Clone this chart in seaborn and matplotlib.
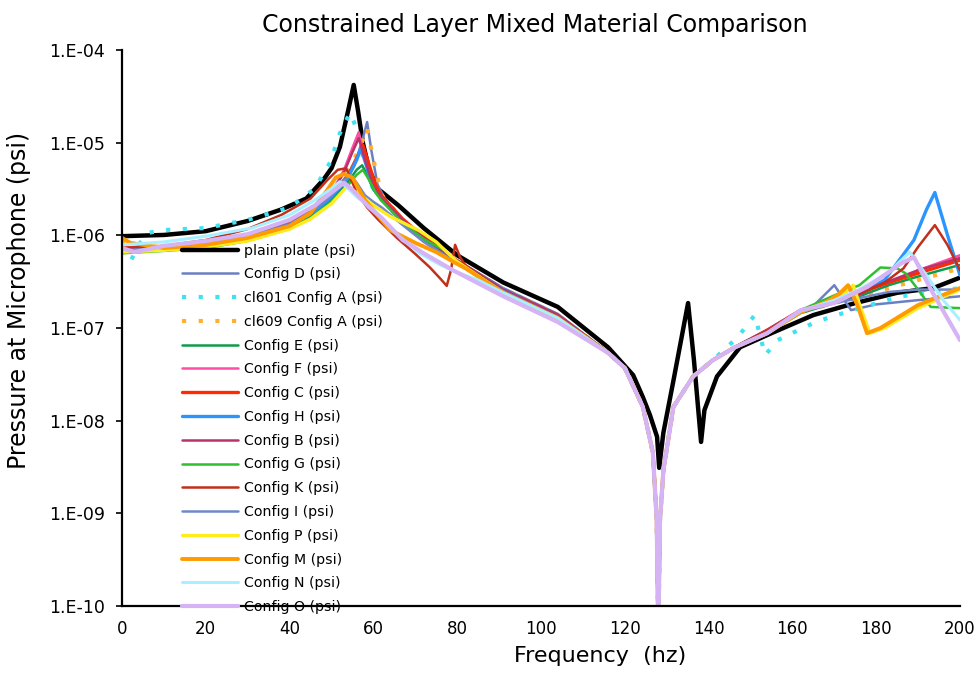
import matplotlib
matplotlib.use("Agg")
import matplotlib.pyplot as plt
from matplotlib.ticker import FuncFormatter, NullLocator
import numpy as np
import seaborn as sns

# ---- frequency (hz) and microphone pressure (psi) for each configuration ----
plain_f = [0, 10, 20, 30, 38, 44, 48, 50, 52, 54, 55.3, 56.3, 57.5, 59, 61, 66, 72, 80, 91, 104,
           116, 122, 124.3, 126, 127.7, 128.2, 129.2, 131.6, 135.1, 136.5, 138.2, 139, 142, 147.5,
           155, 165, 175, 185, 193.6, 200]
plain_p = [9.8e-7, 1.01e-6, 1.11e-6, 1.43e-6, 1.9e-6, 2.5e-6, 3.95e-6, 5.3e-6, 9.0e-6, 2.25e-5,
           4.2e-5, 2.25e-5, 9.9e-6, 5.1e-6, 3.2e-6, 2.1e-6, 1.2e-6, 6.1e-7, 3.1e-7, 1.69e-7,
           6.2e-8, 3.1e-8, 1.8e-8, 1.15e-8, 6.7e-9, 3.1e-9, 7.4e-9, 2.7e-8, 1.86e-7, 4.5e-8,
           5.9e-9, 1.3e-8, 3.0e-8, 6.2e-8, 8.8e-8, 1.38e-7, 1.86e-7, 2.4e-7, 2.7e-7, 3.5e-7]

d_f = [0, 10, 20, 30, 40, 46, 50, 53, 55.5, 57.5, 58.5, 59.5, 61, 64, 70, 79, 91, 104,
       116, 120, 124.3, 126.7, 127.6, 128, 128.4, 129.2, 131.6, 136.3, 141, 146,
       154, 162, 165, 170, 174, 180, 190, 200]
d_p = [6.9e-7, 7.3e-7, 8.1e-7, 9.6e-7, 1.32e-6, 1.9e-6, 2.5e-6, 3.5e-6, 5.7e-6, 1.12e-5, 1.67e-5,
       8.3e-6, 3.5e-6, 1.97e-6, 1.09e-6, 5.7e-7, 2.7e-7, 1.42e-7,
       5.4e-8, 3.7e-8, 1.41e-8, 4.5e-9, 8.5e-10, 5e-11, 8.5e-10, 2.9e-9, 1.41e-8, 3.0e-8, 4.5e-8, 6.1e-8,
       9.1e-8, 1.49e-7, 1.73e-7, 2.9e-7, 1.56e-7, 1.8e-7, 2.0e-7, 2.2e-7]

a601_f = [0, 2, 4, 6, 10, 15, 20, 30, 40, 46, 50, 51.5, 53, 54.5, 56, 58, 60, 62, 67, 72, 79, 91, 104,
          116, 120, 124.3, 126.7, 127.6, 128, 128.4, 129.2, 131.6, 136.3, 141,
          147, 151, 153.5, 156.5, 160.6, 165, 169, 177, 186, 200]
a601_p = [6.9e-7, 5.2e-7, 7.9e-7, 1.06e-6, 1.14e-6, 1.17e-6, 1.2e-6, 1.47e-6, 2.0e-6, 3.2e-6,
          6.5e-6, 1.12e-5, 1.6e-5, 2.1e-5, 1.4e-5, 5.7e-6, 3.1e-6, 2.4e-6, 1.39e-6, 8.9e-7, 5.4e-7,
          2.6e-7, 1.38e-7,
          5.4e-8, 3.7e-8, 1.41e-8, 4.5e-9, 8.5e-10, 5e-11, 8.5e-10, 2.9e-9, 1.41e-8, 3.0e-8, 4.5e-8,
          8.0e-8, 1.38e-7, 5.1e-8, 7.4e-8, 9.1e-8, 1.13e-7, 1.31e-7, 1.69e-7, 2.2e-7, 2.7e-7]

a609_f = [0, 3, 10, 20, 30, 40, 46, 50, 54, 57, 58.5, 60, 62, 67, 72, 79, 91, 104,
          116, 120, 124.3, 126.7, 127.6, 128, 128.4, 129.2, 131.6, 136.3, 141, 146,
          154, 162, 170, 176, 183, 190, 200]
a609_p = [8.9e-7, 7.7e-7, 7.5e-7, 8.3e-7, 9.8e-7, 1.36e-6, 1.9e-6, 2.7e-6, 4.8e-6, 9.4e-6, 1.44e-5,
          6.5e-6, 2.7e-6, 1.47e-6, 8.9e-7, 5.4e-7, 2.6e-7, 1.35e-7,
          5.4e-8, 3.7e-8, 1.41e-8, 4.5e-9, 8.5e-10, 5e-11, 8.5e-10, 2.9e-9, 1.41e-8, 3.0e-8, 4.5e-8, 6.1e-8,
          9.1e-8, 1.49e-7, 1.86e-7, 2.2e-7, 2.7e-7, 3.3e-7, 4.4e-7]

e_f = [0, 10, 20, 30, 40, 45, 50, 54, 56, 57.3, 58.5, 60, 62, 67, 72, 77, 80, 91, 104,
       116, 120, 124.3, 126.7, 127.6, 128, 128.4, 129.2, 131.6, 136.3, 141, 146,
       154, 162, 170, 176, 183, 190, 200]
e_p = [6.6e-7, 6.9e-7, 7.5e-7, 8.9e-7, 1.2e-6, 1.58e-6, 2.4e-6, 3.8e-6, 5.1e-6, 5.7e-6, 4.5e-6,
       3.1e-6, 2.4e-6, 1.39e-6, 9.4e-7, 6.9e-7, 5.2e-7, 2.45e-7, 1.28e-7,
       5.4e-8, 3.7e-8, 1.41e-8, 4.5e-9, 8.5e-10, 5e-11, 8.5e-10, 2.9e-9, 1.41e-8, 3.0e-8, 4.5e-8, 6.1e-8,
       8.8e-8, 1.45e-7, 1.86e-7, 2.2e-7, 2.9e-7, 3.6e-7, 4.8e-7]

f_f = [0, 10, 20, 30, 40, 46, 50, 53, 55, 56.5, 58, 60, 62, 67, 72, 79, 91, 104,
       116, 120, 124.3, 126.7, 127.6, 128, 128.4, 129.2, 131.6, 136.3, 141, 146,
       154, 162, 170, 176, 183, 190, 200]
f_p = [7.1e-7, 7.3e-7, 8.1e-7, 9.6e-7, 1.32e-6, 1.9e-6, 2.9e-6, 5.1e-6, 8.8e-6, 1.30e-5, 6.8e-6,
       3.5e-6, 2.5e-6, 1.47e-6, 9.4e-7, 5.7e-7, 2.6e-7, 1.38e-7,
       5.4e-8, 3.7e-8, 1.41e-8, 4.5e-9, 8.5e-10, 5e-11, 8.5e-10, 2.9e-9, 1.41e-8, 3.0e-8, 4.5e-8, 6.1e-8,
       9.5e-8, 1.56e-7, 2.0e-7, 2.4e-7, 3.1e-7, 4.2e-7, 6.1e-7]

c_f = [0, 10, 20, 30, 40, 46, 50, 54, 56, 57.5, 59, 60.5, 62, 67, 72, 79, 91, 104,
       116, 120, 124.3, 126.7, 127.6, 128, 128.4, 129.2, 131.6, 136.3, 141, 146,
       154, 162, 170, 176, 183, 190, 200]
c_p = [7.3e-7, 7.5e-7, 8.3e-7, 9.8e-7, 1.36e-6, 1.9e-6, 2.7e-6, 4.5e-6, 6.8e-6, 9.4e-6, 5.7e-6,
       3.5e-6, 2.65e-6, 1.5e-6, 9.6e-7, 5.7e-7, 2.6e-7, 1.38e-7,
       5.4e-8, 3.7e-8, 1.41e-8, 4.5e-9, 8.5e-10, 5e-11, 8.5e-10, 2.9e-9, 1.41e-8, 3.0e-8, 4.5e-8, 6.1e-8,
       9.5e-8, 1.56e-7, 2.0e-7, 2.4e-7, 3.1e-7, 3.9e-7, 5.4e-7]

h_f = [0, 10, 20, 30, 40, 46, 50, 54, 56, 57, 58.5, 60, 62, 67, 72, 79, 91, 104,
       116, 120, 124.3, 126.7, 127.6, 128, 128.4, 129.2, 131.6, 136.3, 141, 146,
       154, 162, 170, 176, 182, 186, 189, 192, 194, 197, 200]
h_p = [6.9e-7, 7.3e-7, 8.1e-7, 9.6e-7, 1.32e-6, 1.83e-6, 2.6e-6, 4.3e-6, 6.5e-6, 8.8e-6, 5.3e-6,
       3.2e-6, 2.5e-6, 1.43e-6, 9.1e-7, 5.6e-7, 2.6e-7, 1.35e-7,
       5.4e-8, 3.7e-8, 1.41e-8, 4.5e-9, 8.5e-10, 5e-11, 8.5e-10, 2.9e-9, 1.41e-8, 3.0e-8, 4.5e-8, 6.1e-8,
       9.3e-8, 1.53e-7, 1.95e-7, 2.3e-7, 3.3e-7, 5.8e-7, 8.9e-7, 1.9e-6, 2.9e-6, 1.01e-6, 3.7e-7]

b_f = [0, 10, 20, 30, 40, 46, 50, 53, 55, 56.5, 58, 60, 62, 67, 72, 79, 91, 104,
       116, 120, 124.3, 126.7, 127.6, 128, 128.4, 129.2, 131.6, 136.3, 141, 146,
       154, 162, 170, 176, 183, 190, 200]
b_p = [7.1e-7, 7.3e-7, 8.1e-7, 9.6e-7, 1.32e-6, 1.9e-6, 2.8e-6, 4.8e-6, 7.9e-6, 1.12e-5, 6.5e-6,
       3.4e-6, 2.5e-6, 1.47e-6, 9.4e-7, 5.7e-7, 2.6e-7, 1.38e-7,
       5.4e-8, 3.7e-8, 1.41e-8, 4.5e-9, 8.5e-10, 5e-11, 8.5e-10, 2.9e-9, 1.41e-8, 3.0e-8, 4.5e-8, 6.1e-8,
       9.5e-8, 1.56e-7, 2.0e-7, 2.45e-7, 3.2e-7, 4.2e-7, 5.7e-7]

g_f = [0, 10, 20, 30, 40, 45, 50, 54, 56, 57.5, 59, 60.5, 62, 67, 72, 77, 80, 91, 104,
       116, 120, 124.3, 126.7, 127.6, 128, 128.4, 129.2, 131.6, 136.3, 141, 146,
       154, 162, 170, 176, 181, 185, 187, 190, 193, 200]
g_p = [6.4e-7, 6.8e-7, 7.3e-7, 8.7e-7, 1.17e-6, 1.54e-6, 2.3e-6, 3.5e-6, 4.5e-6, 5.1e-6, 3.95e-6,
       2.9e-6, 2.35e-6, 1.36e-6, 9.1e-7, 6.9e-7, 5.0e-7, 2.4e-7, 1.28e-7,
       5.4e-8, 3.7e-8, 1.41e-8, 4.5e-9, 8.5e-10, 5e-11, 8.5e-10, 2.9e-9, 1.41e-8, 3.0e-8, 4.5e-8, 6.1e-8,
       8.8e-8, 1.56e-7, 2.25e-7, 2.9e-7, 4.5e-7, 4.4e-7, 3.9e-7, 2.6e-7, 1.69e-7, 1.64e-7]

k_f = [0, 10, 20, 30, 38, 45, 49, 51.5, 53.5, 56, 58.5, 61, 65.6, 70, 73.5, 76, 77.5, 78.5, 79.5,
       80.7, 82, 91, 104,
       116, 120, 124.3, 126.7, 127.6, 128, 128.4, 129.2, 131.6, 136.3, 141, 146,
       154, 162, 170, 176, 182, 186.5, 190, 194, 197, 200]
k_p = [7.3e-7, 7.7e-7, 8.9e-7, 1.17e-6, 1.66e-6, 2.5e-6, 3.95e-6, 5.1e-6, 5.3e-6, 2.9e-6, 2.0e-6,
       1.5e-6, 9.4e-7, 6.3e-7, 4.5e-7, 3.4e-7, 2.85e-7, 4.2e-7, 7.9e-7,
       5.8e-7, 4.7e-7, 2.45e-7, 1.28e-7,
       5.4e-8, 3.7e-8, 1.41e-8, 4.5e-9, 8.5e-10, 5e-11, 8.5e-10, 2.9e-9, 1.41e-8, 3.0e-8, 4.5e-8, 6.1e-8,
       9.3e-8, 1.53e-7, 1.95e-7, 2.3e-7, 3.1e-7, 4.4e-7, 7.5e-7, 1.29e-6, 7.9e-7, 4.2e-7]

i_f = [0, 10, 20, 30, 40, 46, 50, 53, 54.5, 56, 58, 60, 62, 67, 72, 79, 91, 104,
       116, 120, 124.3, 126.7, 127.6, 128, 128.4, 129.2, 131.6, 136.3, 141, 146,
       154, 162, 170, 176, 183, 190, 200]
i_p = [6.9e-7, 7.3e-7, 8.1e-7, 9.6e-7, 1.32e-6, 1.9e-6, 2.7e-6, 3.95e-6, 4.5e-6, 3.7e-6, 2.7e-6,
       2.3e-6, 2.0e-6, 1.29e-6, 8.5e-7, 5.3e-7, 2.5e-7, 1.31e-7,
       5.4e-8, 3.7e-8, 1.41e-8, 4.5e-9, 8.5e-10, 5e-11, 8.5e-10, 2.9e-9, 1.41e-8, 3.0e-8, 4.5e-8, 6.1e-8,
       8.8e-8, 1.49e-7, 1.86e-7, 2.1e-7, 2.45e-7, 2.6e-7, 2.6e-7]

p_f = [0, 10, 20, 30, 40, 45, 50, 53.5, 56, 58, 60, 64, 71, 75, 77.5, 80, 91, 104,
       116, 120, 124.3, 126.7, 127.6, 128, 128.4, 129.2, 131.6, 136.3, 141, 146,
       154, 162, 168, 172, 174.5, 176.5, 178.5, 182, 190, 200]
p_p = [6.6e-7, 6.9e-7, 7.5e-7, 8.7e-7, 1.17e-6, 1.5e-6, 2.2e-6, 3.3e-6, 2.9e-6, 2.5e-6, 2.1e-6,
       1.6e-6, 1.12e-6, 8.5e-7, 6.6e-7, 5.2e-7, 2.4e-7, 1.28e-7,
       5.4e-8, 3.7e-8, 1.41e-8, 4.5e-9, 8.5e-10, 5e-11, 8.5e-10, 2.9e-9, 1.41e-8, 3.0e-8, 4.5e-8, 6.1e-8,
       8.8e-8, 1.49e-7, 1.9e-7, 2.25e-7, 2.9e-7, 1.56e-7, 8.8e-8, 1.0e-7, 1.64e-7, 2.6e-7]

m_f = [0, 2, 10, 20, 30, 40, 45, 49, 51, 53, 55, 58, 64, 70, 75, 79, 82, 91, 104,
       116, 120, 124.3, 126.7, 127.6, 128, 128.4, 129.2, 131.6, 136.3, 141, 146,
       154, 162, 168, 171, 173.3, 175.5, 177.8, 181, 190, 200]
m_p = [9.4e-7, 8.3e-7, 7.3e-7, 7.9e-7, 9.4e-7, 1.26e-6, 1.74e-6, 3.1e-6, 4.2e-6, 4.6e-6, 4.2e-6,
       2.4e-6, 1.14e-6, 8.3e-7, 6.6e-7, 5.2e-7, 4.4e-7, 2.4e-7, 1.28e-7,
       5.4e-8, 3.7e-8, 1.41e-8, 4.5e-9, 8.5e-10, 5e-11, 8.5e-10, 2.9e-9, 1.41e-8, 3.0e-8, 4.5e-8, 6.1e-8,
       8.8e-8, 1.49e-7, 1.9e-7, 2.3e-7, 2.9e-7, 1.77e-7, 8.8e-8, 1.0e-7, 1.77e-7, 2.7e-7]

n_f = [0, 10, 20, 31, 40, 46, 50, 52, 54, 56, 60, 65, 71, 76, 80, 85, 91, 104,
       116, 120, 124.3, 126.7, 127.6, 128, 128.4, 129.2, 131.6, 136.3, 141, 146,
       154, 162, 170, 176, 183, 188, 192, 196, 200]
n_p = [7.9e-7, 8.5e-7, 9.8e-7, 1.2e-6, 1.66e-6, 2.4e-6, 3.2e-6, 3.8e-6, 3.2e-6, 2.6e-6, 1.9e-6,
       1.09e-6, 6.4e-7, 4.8e-7, 4.0e-7, 3.3e-7, 2.4e-7, 1.28e-7,
       5.4e-8, 3.7e-8, 1.41e-8, 4.5e-9, 8.5e-10, 5e-11, 8.5e-10, 2.9e-9, 1.41e-8, 3.0e-8, 4.5e-8, 6.1e-8,
       8.8e-8, 1.53e-7, 2.0e-7, 2.6e-7, 4.0e-7, 6.6e-7, 3.7e-7, 2.0e-7, 1.22e-7]

o_f = [0, 3, 10, 20, 30, 40, 46, 50, 53, 55, 57, 59, 62, 67, 72, 79, 91, 104,
       116, 120, 124.3, 126.7, 127.6, 128, 128.4, 129.2, 131.6, 136.3, 141, 146,
       154, 162, 170, 178, 186, 189, 193.5, 200]
o_p = [7.3e-7, 6.6e-7, 7.7e-7, 8.7e-7, 1.03e-6, 1.47e-6, 2.1e-6, 2.9e-6, 3.7e-6, 3.1e-6, 2.5e-6,
       2.0e-6, 1.54e-6, 8.9e-7, 6.4e-7, 4.2e-7, 2.2e-7, 1.16e-7,
       5.4e-8, 3.7e-8, 1.41e-8, 4.5e-9, 8.5e-10, 5e-11, 8.5e-10, 2.9e-9, 1.41e-8, 3.0e-8, 4.5e-8, 6.1e-8,
       8.8e-8, 1.56e-7, 1.86e-7, 2.8e-7, 5.0e-7, 5.8e-7, 2.4e-7, 7.4e-8]

x_ticks = [0, 20, 40, 60, 80, 100, 120, 140, 160, 180, 200]
y_ticks = [1e-10, 1e-9, 1e-8, 1e-7, 1e-6, 1e-5, 1e-4]

DOT = (0, (1, 3))
series = [
    ("plain plate (psi)", plain_f, plain_p, "#000000", 3.2, "-"),
    ("Config D (psi)", d_f, d_p, "#6a80c2", 1.8, "-"),
    ("cl601 Config A (psi)", a601_f, a601_p, "#3fe3f0", 3.0, DOT),
    ("cl609 Config A (psi)", a609_f, a609_p, "#ffb02e", 3.0, DOT),
    ("Config E (psi)", e_f, e_p, "#0d9a4c", 1.8, "-"),
    ("Config F (psi)", f_f, f_p, "#ff4da6", 1.8, "-"),
    ("Config C (psi)", c_f, c_p, "#ff2a00", 2.4, "-"),
    ("Config H (psi)", h_f, h_p, "#2b95ff", 2.4, "-"),
    ("Config B (psi)", b_f, b_p, "#b8336a", 1.8, "-"),
    ("Config G (psi)", g_f, g_p, "#2fbf2f", 1.8, "-"),
    ("Config K (psi)", k_f, k_p, "#c0301a", 1.8, "-"),
    ("Config I (psi)", i_f, i_p, "#7088c8", 1.8, "-"),
    ("Config P (psi)", p_f, p_p, "#ffec1f", 2.4, "-"),
    ("Config M (psi)", m_f, m_p, "#ff9a00", 2.8, "-"),
    ("Config N (psi)", n_f, n_p, "#a8f0ff", 2.2, "-"),
    ("Config O (psi)", o_f, o_p, "#d6b3f5", 3.0, "-"),
]

sns.set_theme(style="white")
plt.rcParams["font.family"] = ["DejaVu Sans"]
plt.rcParams["text.color"] = "black"
plt.rcParams["axes.labelcolor"] = "black"

fig = plt.figure(figsize=(9.8, 6.9), dpi=100)
ax = fig.add_axes([0.1245, 0.1217, 0.8551, 0.8058])

for label, fx, py, color, lw, ls in series:
    sns.lineplot(x=fx, y=py, ax=ax, color=color, linewidth=lw, linestyle=ls,
                 label=label, errorbar=None, sort=False, solid_joinstyle="round")

ax.set_yscale("log")
ax.set_ylim(1e-10, 1e-4)
ax.set_xlim(0, 200)
ax.set_yticks(y_ticks)
ax.yaxis.set_minor_locator(NullLocator())
ax.yaxis.set_major_formatter(FuncFormatter(lambda v, _: "1.E-%02d" % round(-np.log10(v))))
ax.set_xticks(x_ticks)
ax.set_xticklabels([str(t) for t in x_ticks])
ax.set_xlabel("")
ax.set_ylabel("")
ax.tick_params(axis="y", direction="out", length=4, width=1.2, pad=8, labelsize=12.5,
               colors="black", left=True)
ax.tick_params(axis="x", length=0, pad=10, labelsize=12, colors="black")
for side in ("top", "right"):
    ax.spines[side].set_visible(False)
for side in ("left", "bottom"):
    ax.spines[side].set_color("black")
    ax.spines[side].set_linewidth(1.6)
ax.set_facecolor("white")

ax.legend(loc="upper left", bbox_to_anchor=(0.0716, 0.652), frameon=False, fontsize=10.2,
          handlelength=3.95, handletextpad=0.42, labelspacing=0.69, borderaxespad=0,
          borderpad=0, labelcolor="black")

fig.text(0.546, 0.964, "Constrained Layer Mixed Material Comparison", ha="center",
         va="center", fontsize=17, color="black")
fig.text(0.019, 0.564, "Pressure at Microphone (psi)", rotation=90, ha="center",
         va="center", fontsize=17, color="black")
fig.text(0.612, 0.05, "Frequency  (hz)", ha="center", va="center", fontsize=16,
         color="black")

fig.savefig("out.png", dpi=100, facecolor="white")
